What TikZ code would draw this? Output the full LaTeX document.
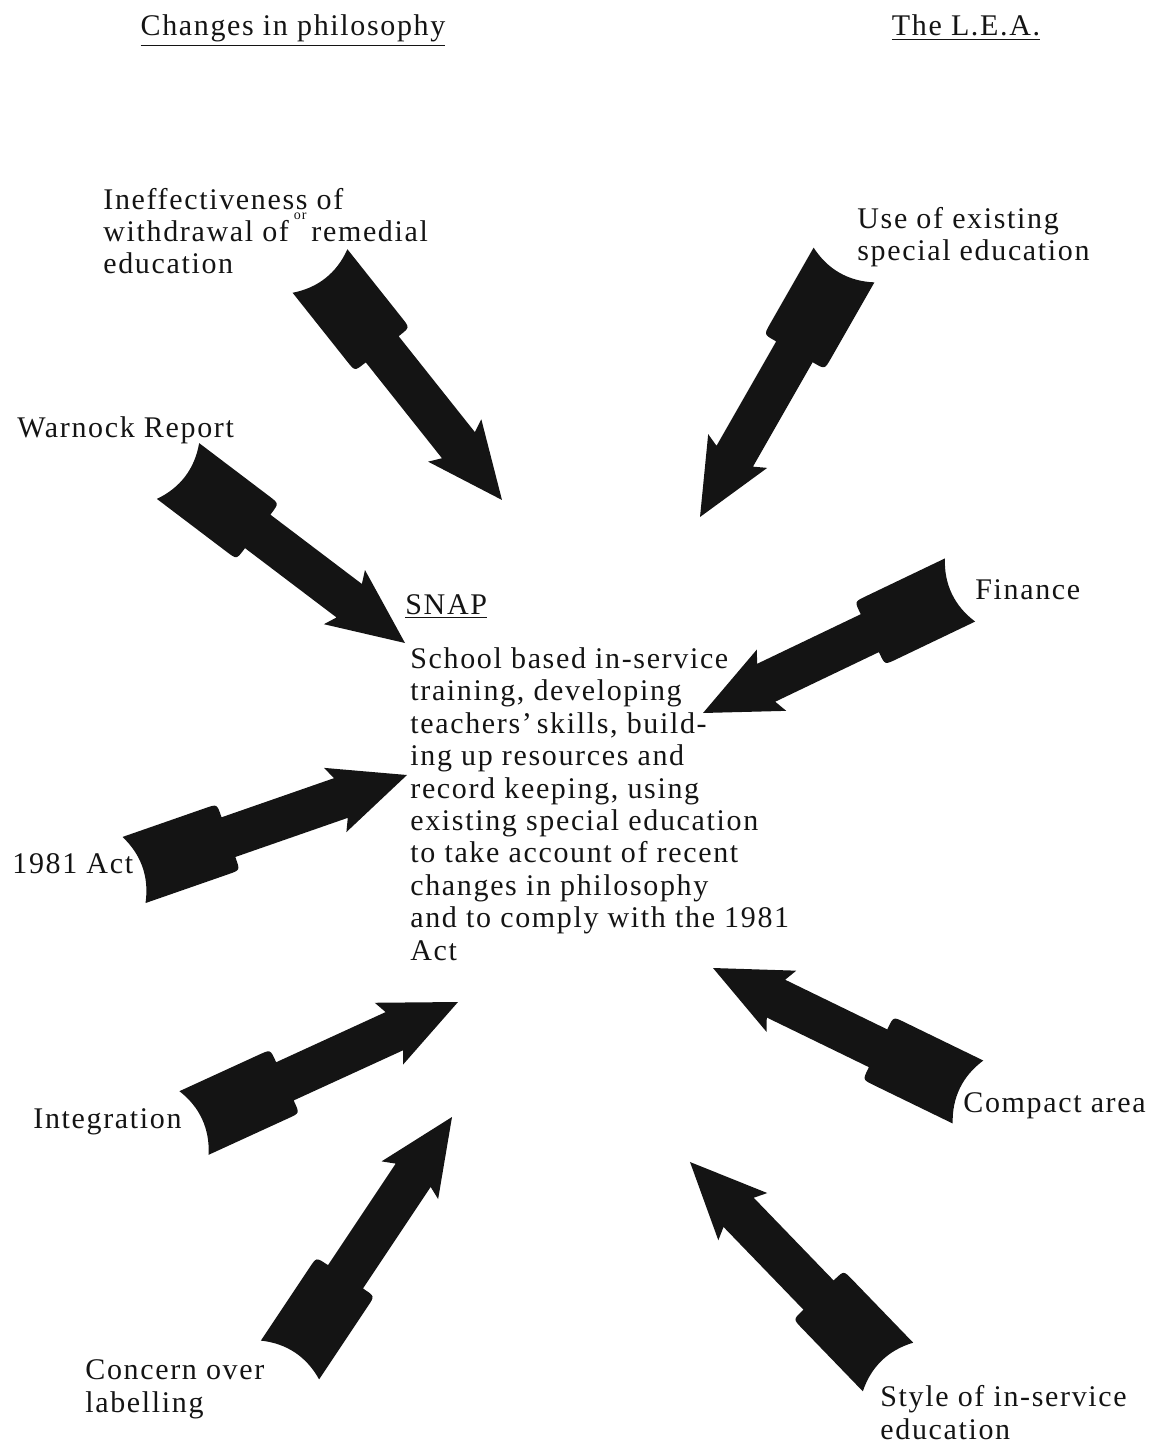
\documentclass[tikz,border=0pt]{standalone}
\usepackage{fontspec}
\setmainfont{Liberation Serif}[LetterSpace=5.5]
\usepackage{tikz}
\usetikzlibrary{calc}
\definecolor{ink}{HTML}{141414}
\definecolor{print}{HTML}{141414}
\tikzset{
  arrowbody/.style={fill=ink},
  lab/.style={text=print, font=\fontsize{15}{16.2}\selectfont, anchor=base west, inner sep=0pt, align=left},
  head/.style={text=print, font=\fontsize{15}{16.2}\selectfont, anchor=base, inner sep=0pt}
}
% fat arrow from a tail coordinate to a tip coordinate
\newcommand{\fatarrow}[2]{%
  \path (#1); \pgfgetlastxy{\tailx}{\taily}%
  \path (#2); \pgfgetlastxy{\tipx}{\tipy}%
  \pgfmathsetmacro{\arrowang}{atan2(\tipy-\taily,\tipx-\tailx)}%
  \pgfmathsetmacro{\arrowlen}{veclen(\tipx-\tailx,\tipy-\taily)}%
  \pgfmathsetmacro{\headbase}{\arrowlen-35}%
  \pgfmathsetmacro{\barb}{\arrowlen-38}%
  \fill[arrowbody, shift={(#1)}, rotate=\arrowang]
    (0pt,-17.5pt) .. controls (6pt,-6pt) and (6pt,6pt) .. (0pt,17.5pt)
    -- (44pt,17.5pt) .. controls (50pt,17.5pt) .. (50pt,11.5pt)
    -- (50pt,10.5pt) -- (\headbase pt,10.5pt) -- (\barb pt,17pt)
    -- (\arrowlen pt,0pt)
    -- (\barb pt,-17pt) -- (\headbase pt,-10.5pt) -- (50pt,-10.5pt)
    -- (50pt,-11.5pt) .. controls (50pt,-17.5pt) .. (44pt,-17.5pt) -- cycle;
}
\begin{document}
\begin{tikzpicture}[x=0.5pt,y=-0.5pt]
  \useasboundingbox (0,0) rectangle (1149,1444);

  % headings
  \node[head] (headphil) at (293,36) {\underline{Changes in philosophy}};
  \node[head] (headlea) at (966,36) {\underline{The L.E.A.}};

  % centre (multi-line nodes sit on their last baseline)
  \node[lab] (snap) at (405,614) {\underline{SNAP}};
  \node[lab] (body) at (410,960) {School based in-service\\training, developing\\teachers'\,skills, build-\\ing up resources and\\record keeping, using\\existing special education\\to take account of recent\\changes in philosophy\\and to comply with the 1981\\Act};

  % changes in philosophy
  \node[lab] (ineff) at (103,274) {Ineffectiveness of\\withdrawal of\,\raisebox{1.6ex}{\fontsize{7}{7}\selectfont or}\,remedial\\education};
  \node[lab] (warnock) at (17,437) {Warnock Report};
  \node[lab] (act) at (12,873) {1981 Act};
  \node[lab] (integ) at (33,1128) {Integration};
  \node[lab] (concern) at (85,1412) {Concern over\\labelling};

  % the L.E.A.
  \node[lab] (usespec) at (857,261) {Use of existing\\special education};
  \node[lab] (finance) at (975,599) {Finance};
  \node[lab] (compact) at (963,1112) {Compact area};
  \node[lab] (style) at (880,1439) {Style of in-service\\education};

  % arrow ends
  \coordinate (ineff tail) at (320,271);
  \coordinate (ineff tip) at (502,500);
  \coordinate (warnock tail) at (178,471);
  \coordinate (warnock tip) at (405,643);
  \coordinate (act tail) at (134,870);
  \coordinate (act tip) at (407,775);
  \coordinate (integ tail) at (194,1123);
  \coordinate (integ tip) at (458,1002);
  \coordinate (concern tail) at (290,1360);
  \coordinate (concern tip) at (452,1117);
  \coordinate (usespec tail) at (844,265);
  \coordinate (usespec tip) at (700,517);
  \coordinate (finance tail) at (960,590);
  \coordinate (finance tip) at (703,713);
  \coordinate (compact tail) at (968,1092);
  \coordinate (compact tip) at (713,968);
  \coordinate (style tail) at (888,1367);
  \coordinate (style tip) at (690,1162);

  \fatarrow{ineff tail}{ineff tip}
  \fatarrow{warnock tail}{warnock tip}
  \fatarrow{act tail}{act tip}
  \fatarrow{integ tail}{integ tip}
  \fatarrow{concern tail}{concern tip}
  \fatarrow{usespec tail}{usespec tip}
  \fatarrow{finance tail}{finance tip}
  \fatarrow{compact tail}{compact tip}
  \fatarrow{style tail}{style tip}
\end{tikzpicture}
\end{document}
